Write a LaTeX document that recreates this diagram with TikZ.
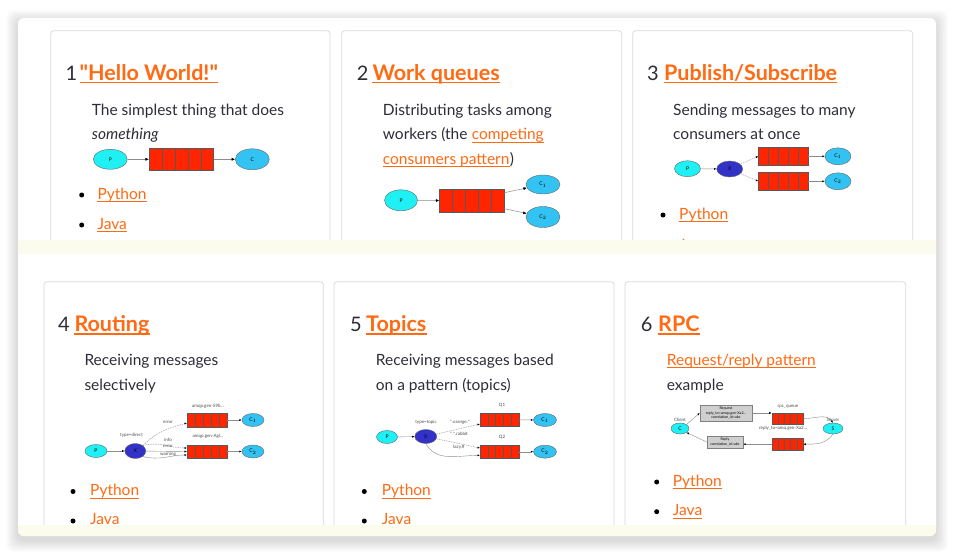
\documentclass[tikz,border=0pt]{standalone}
\usepackage{fontspec}
\setmainfont{Lato}[Ligatures=ResetAll]
\usetikzlibrary{shapes.geometric,calc,arrows.meta}
\definecolor{linkc}{HTML}{FF6A13}
\definecolor{txt}{HTML}{2E2E38}
\definecolor{cardc}{HTML}{DADADA}
\definecolor{bandc}{HTML}{FCFCEE}
\definecolor{pcyan}{HTML}{1EF0F4}
\definecolor{ccyan}{HTML}{33C3F3}
\definecolor{xblue}{HTML}{3232C8}
\definecolor{qred}{HTML}{FF2500}
\definecolor{boxg}{HTML}{CFCFCF}
\newcommand\dq{\XeTeXglyph\XeTeXcharglyph"22\relax}
\tikzset{
 num/.style={anchor=base west,inner sep=0,font=\fontsize{20}{24}\selectfont,text=txt},
 ttl/.style={anchor=base west,inner sep=0,font=\fontsize{21.5}{24}\selectfont\bfseries,text=linkc},
 body/.style={anchor=base west,inner sep=0,font=\fontsize{15.5}{18}\selectfont,text=txt},
 blink/.style={body,text=linkc},
 tul/.style={linkc,line width=1.6pt},
 bul/.style={linkc,line width=0.8pt},
 dot/.style={circle,fill=black,inner sep=0,minimum size=5pt},
 card/.style={draw=cardc,line width=0.8pt,rounded corners=3pt},
 pn/.style={ellipse,draw=black!60,fill=pcyan,line width=0.4pt,inner sep=0,font=\fontsize{5}{5}\selectfont},
 cn/.style={pn,fill=ccyan},
 xn/.style={pn,fill=xblue},
 qn/.style={rectangle,draw=black!65,fill=qred,line width=0.4pt,inner sep=0,outer sep=0},
 qline/.style={draw=black!65,line width=0.4pt},
 arr/.style={draw=black!45,line width=0.5pt,-{Latex[length=3.5pt,width=3pt,color=black]}},
 sarr/.style={draw=black!45,line width=0.4pt,-{Latex[length=2.5pt,width=2pt,color=black]}},
 darr/.style={sarr,dash pattern=on 1.5pt off 1pt},
 lab/.style={inner sep=0,font=\fontsize{4.5}{5}\selectfont,text=black!70},
 rbox/.style={rectangle,draw=black!50,fill=boxg,line width=0.4pt,inner sep=0.5pt,align=center,font=\fontsize{3.6}{4.2}\selectfont},
}
\newcommand\cells[1]{\foreach \i in {1,...,4}{\draw[qline] ($(#1.south west)!\i/5!(#1.south east)$) -- ($(#1.north west)!\i/5!(#1.north east)$);}}
\newcommand\ulink[5]{\node[#1] (#3) at (#4) {#5};
 \draw[#2] ([yshift=-2.4pt]#3.base west) -- ([yshift=-2.4pt]#3.base east);}
\begin{document}
\begin{tikzpicture}[x=1pt,y=-1pt]
\useasboundingbox (0,0) rectangle (954,554);
% shadow and panel
\foreach \s in {1,...,12}{\fill[black,opacity=0.012,rounded corners=8pt] ({18-\s},{18-\s+4}) rectangle ({936+\s},{536+\s+4});}
\fill[white,rounded corners=6pt] (18,18) rectangle (936,536);
% ===== top strip =====
\begin{scope}
\clip (18,18) rectangle (936,240);
\draw[card] (50.7,30.7) rectangle (330,270);
\draw[card] (341.7,30.7) rectangle (621.7,270);
\draw[card] (632.7,30.7) rectangle (912.7,270);
% card 1
\node[num] (n1) at (65.5,80) {1};
\ulink{ttl}{tul}{t1}{79.5,80}{\dq Hello World!\dq}
\node[body] (b11) at (91.7,115) {The simplest thing that does};
\node[body] (b12) at (91.7,139.5) {\itshape something};
\node[pn,minimum width=34pt,minimum height=20pt] (p1) at (110.3,159.3) {P};
\node[qn,minimum width=64.7pt,minimum height=22.7pt] (q1) at (181.3,159.3) {};
\cells{q1}
\node[cn,minimum width=34pt,minimum height=21pt] (c1) at (252.3,159.3) {C};
\draw[arr] (p1) -- (q1);
\draw[arr] (q1) -- (c1);
\node[dot] (d11) at (81.7,195) {};
\node[dot] (d12) at (81.7,225) {};
\ulink{blink}{bul}{py1}{97.3,199.3}{Python}
\ulink{blink}{bul}{ja1}{97.3,229}{Java}
% card 2
\node[num] (n2) at (356.7,80) {2};
\ulink{ttl}{tul}{t2}{372.3,80}{Work queues}
\node[body] (b21) at (382.7,115) {Distributing tasks among};
\node[body] (b22) at (382.7,139.5) {workers (the\ \kern0pt};
\ulink{blink}{bul}{l22}{b22.base east}{competing}
\ulink{blink}{bul}{l23}{382.7,164}{consumers pattern}
\node[body] (b23) at (l23.base east) {)};
\node[pn,minimum width=33pt,minimum height=21pt] (p2) at (401,200.3) {P};
\node[qn,minimum width=65pt,minimum height=22.7pt] (q2) at (471.8,200.7) {};
\cells{q2}
\node[cn,minimum width=34pt,minimum height=19pt] (c21) at (543,184.5) {C$_1$};
\node[cn,minimum width=34pt,minimum height=21pt] (c22) at (543,217) {C$_2$};
\draw[arr] (p2) -- (q2);
\draw[arr] ([yshift=8pt]q2.east) -- (c21);
\draw[arr] ([yshift=-8pt]q2.east) -- (c22);
% card 3
\node[num] (n3) at (647,80) {3};
\ulink{ttl}{tul}{t3}{664,80}{Publish/Subscribe}
\node[body] (b31) at (673,115) {Sending messages to many};
\node[body] (b32) at (673,139.5) {consumers at once};
\node[pn,minimum width=26pt,minimum height=16pt] (p3) at (687.5,168.7) {P};
\node[xn,minimum width=26pt,minimum height=16pt] (x3) at (729.7,169) {X};
\node[qn,minimum width=50pt,minimum height=17.3pt] (q31) at (783.3,156.3) {};
\cells{q31}
\node[qn,minimum width=50pt,minimum height=17.3pt] (q32) at (783.3,181.3) {};
\cells{q32}
\node[cn,minimum width=26pt,minimum height=17pt] (c31) at (838,156.3) {C$_1$};
\node[cn,minimum width=26pt,minimum height=17pt] (c32) at (838,181.3) {C$_2$};
\draw[sarr] (p3) -- (x3);
\draw[darr] (x3) -- (q31.west);
\draw[darr] (x3) -- (q32.west);
\draw[sarr] (q31) -- (c31);
\draw[sarr] (q32) -- (c32);
\node[dot] (d31) at (663,215) {};
\node[dot] (d32) at (663,246) {};
\ulink{blink}{bul}{py3}{679,219.3}{Python}
\ulink{blink}{bul}{ja3}{679,250.5}{Java}
\end{scope}
\fill[bandc] (18,240) rectangle (936,253.5);
% ===== bottom strip =====
\begin{scope}
\clip (18,253.5) rectangle (936,524.5);
\draw[card] (44,281.7) rectangle (323.3,560);
\draw[card] (334,281.7) rectangle (614,560);
\draw[card] (625,281.7) rectangle (905.7,560);
% card 4
\node[num] (n4) at (58,331.5) {4};
\ulink{ttl}{tul}{t4}{74.3,331.5}{Routing}
\node[body] (b41) at (84.3,365) {Receiving messages};
\node[body] (b42) at (84.3,390) {selectively};
\node[pn,minimum width=22pt,minimum height=13pt] (p4) at (96,451) {P};
\node[xn,minimum width=21pt,minimum height=15pt] (x4) at (135.3,451) {X};
\node[qn,minimum width=40pt,minimum height=14pt] (q41) at (207,420) {};
\cells{q41}
\node[qn,minimum width=40pt,minimum height=13pt] (q42) at (207,451.5) {};
\cells{q42}
\node[cn,minimum width=22pt,minimum height=13pt] (c41) at (253,420) {C$_1$};
\node[cn,minimum width=22pt,minimum height=13pt] (c42) at (253,451.5) {C$_2$};
\draw[sarr] (p4) -- (x4);
\draw[darr] (x4.north east) to[out=45,in=195] ([yshift=4pt]q41.south west);
\draw[darr] (x4.north east) to[out=15,in=180] ([yshift=-3pt]q42.north west);
\draw[sarr] (x4) -- (q42.west);
\draw[sarr] (x4.south east) to[out=-15,in=180] ([yshift=3pt]q42.south west);
\draw[sarr] (q41) -- (c41);
\draw[sarr] (q42) -- (c42);
\node[lab] (l41) at (208,406) {amqp.gen-S9b...};
\node[lab] (l42) at (208,436.5) {amqp.gen-Agl...};
\node[lab] (l43) at (131.5,435.5) {type=direct};
\node[lab] (l44) at (168,422.5) {error};
\node[lab] (l45) at (168,439.5) {info};
\node[lab] (l46) at (168,446) {error};
\node[lab] (l47) at (168,454) {warning};
\node[dot] (d41) at (73,491.5) {};
\node[dot] (d42) at (73,521) {};
\ulink{blink}{bul}{py4}{90,495.7}{Python}
\ulink{blink}{bul}{ja4}{90,524.5}{Java}
% card 5
\node[num] (n5) at (350,331.5) {5};
\ulink{ttl}{tul}{t5}{366,331.5}{Topics}
\node[body] (b51) at (375.7,365) {Receiving messages based};
\node[body] (b52) at (375.7,390) {on a pattern (topics)};
\node[pn,minimum width=21pt,minimum height=13pt] (p5) at (387,437) {P};
\node[xn,minimum width=22pt,minimum height=14pt] (x5) at (425.8,436.5) {X};
\node[qn,minimum width=39pt,minimum height=12.7pt] (q51) at (499.5,419.7) {};
\cells{q51}
\node[qn,minimum width=39pt,minimum height=13.3pt] (q52) at (499.5,451.7) {};
\cells{q52}
\node[cn,minimum width=23pt,minimum height=13pt] (c51) at (545,420) {C$_1$};
\node[cn,minimum width=23pt,minimum height=13pt] (c52) at (545,451.7) {C$_2$};
\draw[sarr] (p5) -- (x5);
\draw[darr] (x5) -- ([yshift=2pt]q51.south west);
\draw[darr] (x5) -- ([yshift=-3pt]q52.north west);
\draw[sarr] (x5.south) to[out=-60,in=180] ([yshift=3pt]q52.south west);
\draw[sarr] (q51) -- (c51);
\draw[sarr] (q52) -- (c52);
\node[lab] (l51) at (502,405) {Q1};
\node[lab] (l52) at (502,437) {Q2};
\node[lab] (l53) at (426,422.3) {type=topic};
\node[lab] (l54) at (460,422.3) {*.orange.*};
\node[lab] (l55) at (459,434.3) {*.*.rabbit};
\node[lab] (l56) at (459,447.5) {lazy.\#};
\node[dot] (d51) at (364.3,491.5) {};
\node[dot] (d52) at (364.3,521) {};
\ulink{blink}{bul}{py5}{381.7,495.7}{Python}
\ulink{blink}{bul}{ja5}{381.7,524.5}{Java}
% card 6
\node[num] (n6) at (640.7,331.5) {6};
\ulink{ttl}{tul}{t6}{658,331.5}{RPC}
\ulink{blink}{bul}{l61}{666.7,365}{Request/reply pattern}
\node[body] (b62) at (666.7,390) {example};
\node[pn,minimum width=18pt,minimum height=11pt] (cl) at (680,428.5) {C};
\node[pn,minimum width=20pt,minimum height=11pt] (sv) at (833,428.5) {S};
\node[rbox,minimum width=52pt,minimum height=16pt] (req) at (726,413) {Request\\reply\_to=amqp.gen-Xa2...\\correlation\_id=abc};
\node[rbox,minimum width=36pt,minimum height=12pt] (rep) at (725,442) {Reply\\correlation\_id=abc};
\node[qn,minimum width=31.6pt,minimum height=11pt] (rq1) at (787.5,418.7) {};
\cells{rq1}
\node[qn,minimum width=31.6pt,minimum height=11.7pt] (rq2) at (787.5,444.2) {};
\cells{rq2}
\draw[sarr] (cl.north east) -- (req.west);
\draw[sarr] (req.east) -- (req.east -| rq1.west);
\draw[sarr] (rq1.east) to[out=0,in=125] (sv.north);
\draw[sarr] (sv.south) to[out=235,in=0] (rq2.east);
\draw[sarr] (rq2.west) -- (rq2.west -| rep.east);
\draw[sarr] (rep.west) -- (cl.south east);
\node[lab] (l61a) at (680,419.5) {Client};
\node[lab] (l62) at (833,419.5) {Server};
\node[lab] (l63) at (788,406.7) {rpc\_queue};
\node[lab] (l64) at (783,428.5) {reply\_to=amq.gen-Xa2...};
\node[dot] (d61) at (656.7,482) {};
\node[dot] (d62) at (656.7,511.7) {};
\ulink{blink}{bul}{py6}{672.7,486}{Python}
\ulink{blink}{bul}{ja6}{672.7,515.7}{Java}
\end{scope}
\begin{scope}
\clip[rounded corners=6pt] (18,18) rectangle (936,536);
\fill[bandc] (18,524.5) rectangle (936,536);
\end{scope}
\end{tikzpicture}
\end{document}
